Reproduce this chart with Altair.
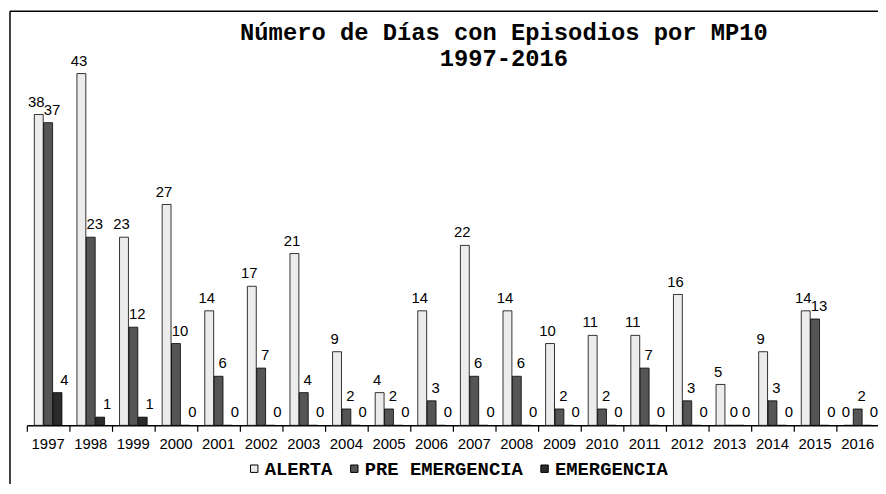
import altair as alt
import pandas as pd

years = [str(y) for y in range(1997, 2017)]
series = ["ALERTA", "PRE EMERGENCIA", "EMERGENCIA"]
alerta = [38, 43, 23, 27, 14, 17, 21, 9, 4, 14, 22, 14, 10, 11, 11, 16, 5, 9, 14, 0]
pre_emergencia = [37, 23, 12, 10, 6, 7, 4, 2, 2, 3, 6, 6, 2, 2, 7, 3, 0, 3, 13, 2]
emergencia = [4, 1, 1, 0, 0, 0, 0, 0, 0, 0, 0, 0, 0, 0, 0, 0, 0, 0, 0, 0]

rows = []
for i, y in enumerate(years):
    for s, vals in zip(series, [alerta, pre_emergencia, emergencia]):
        rows.append({"year": y, "serie": s, "dias": vals[i]})
df = pd.DataFrame(rows)

BAND = 43.0
FULL = BAND * len(years)   # axis runs to the right edge, as in the reference
W = 859
H = 355
MONO = "Courier New, Courier, Nimbus Mono PS, FreeMono, Liberation Mono"

x_enc = alt.X(
    "year:N",
    sort=years,
    scale=alt.Scale(paddingInner=0, paddingOuter=0, range=[0, FULL]),
    axis=alt.Axis(
        title=None,
        labelAngle=0,
        labelFont="Liberation Sans",
        labelFontSize=15,
        labelColor="black",
        domainColor="black",
        domainWidth=1.5,
        tickColor="black",
        tickWidth=1.2,
        tickSize=6,
        labelPadding=5,
        bandPosition=0,
    ),
)
xoff = alt.XOffset(
    "serie:N",
    sort=series,
    scale=alt.Scale(paddingInner=0.05, paddingOuter=0.8),
)
y_enc = alt.Y("dias:Q", scale=alt.Scale(domain=[0, 43], nice=False), axis=None)

base = alt.Chart(df)

bars = base.mark_bar(stroke="black", strokeWidth=0.8).encode(
    x=x_enc,
    xOffset=xoff,
    y=y_enc,
    color=alt.Color(
        "serie:N",
        sort=series,
        scale=alt.Scale(domain=series, range=["#ececec", "#555555", "#2b2b2b"]),
        legend=alt.Legend(
            title=None,
            orient="none",
            legendX=220,
            legendY=389,
            direction="horizontal",
            symbolType="square",
            symbolSize=56,
            symbolStrokeColor="black",
            symbolStrokeWidth=1,
            labelFont=MONO,
            labelFontWeight="bold",
            labelFontSize=19,
            labelColor="black",
            labelOffset=1,
            columnPadding=12,
        ),
    ),
)

def label_layer(serie, dx):
    return base.transform_filter(alt.datum.serie == serie).mark_text(
        font="Liberation Sans", fontSize=15, color="black", dy=-5, dx=dx, baseline="bottom"
    ).encode(
        x=alt.X("year:N", sort=years),
        xOffset=alt.XOffset("serie:N", sort=series),
        y=alt.Y("dias:Q"),
        text="dias:Q",
    )

labels_a = label_layer("ALERTA", -2.5)
labels_p = label_layer("PRE EMERGENCIA", 4)
labels_e = label_layer("EMERGENCIA", 7)

frame_df = pd.DataFrame({"k": [0]})
left_line = alt.Chart(frame_df).mark_rule(color="black", strokeWidth=1.5).encode(
    x=alt.value(-17), y=alt.value(-63), y2=alt.value(H + 60)
)
top_line = alt.Chart(frame_df).mark_rule(color="black", strokeWidth=1.5).encode(
    x=alt.value(-17), x2=alt.value(W), y=alt.value(-63)
)

chart = alt.layer(bars, labels_a, labels_p, labels_e, left_line, top_line).properties(
    width=W,
    height=H,
    autosize=alt.AutoSizeParams(type="none"),
    padding={"left": 19, "top": 64, "right": 0, "bottom": 57},
    title=alt.TitleParams(
        text=["Número de Días con Episodios por MP10", "1997-2016"],
        font=MONO,
        fontSize=24,
        fontWeight="bold",
        color="black",
        anchor="middle",
        dx=52,
        dy=61,
        offset=0,
        lineHeight=26,
    ),
).configure_view(stroke=None)

chart.save("out.html", embed_options={"renderer": "svg", "actions": False})
